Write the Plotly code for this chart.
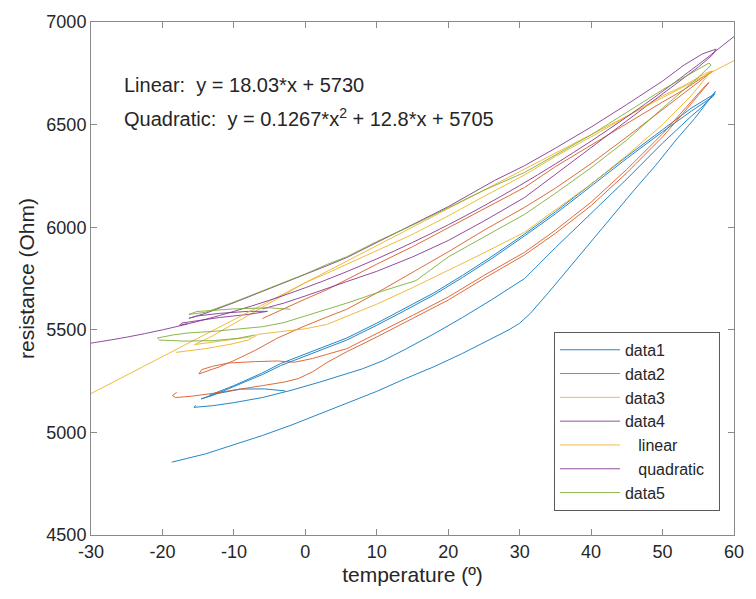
import plotly.graph_objects as go

# ---------------- data ----------------
# data1 (blue): heating branch, cooling branch, second cycle + hook
data1_temp = [-18.7, -17, -14, -10, -6, -2, 2, 6, 10, 14, 18, 22, 26, 28.5, 30, 31.5, 34, 37, 40, 43, 46, 49, 52, 54.5, 56, 57.4,
              57.0, 55.5, 54, 50, 45, 40, 35, 30.7, 26, 22, 18, 14, 10.9, 8, 5.8, 2, -2, -6, -10, -13, -15.6, -15.3,
              None,
              -13.5, -10, -6, -3.5, 0, 3, 5.8, 10, 14, 18, 22, 26, 30.7, 35, 40, 45, 50, 54, 57.3,
              57, 54, 50, 45, 40, 35, 30.7, 26, 22, 18, 14, 10, 5.8, 3, 0, -3.5, -6, -10, -13, -14.6,
              -12.6, -9.1, -5.7, -2.8]
data1_res = [4855, 4870, 4895, 4940, 4985, 5035, 5090, 5145, 5200, 5262, 5320, 5385, 5455, 5500, 5532, 5580, 5680, 5805, 5935, 6060, 6180, 6300, 6430, 6530, 6600, 6662,
             6640, 6585, 6540, 6410, 6235, 6070, 5900, 5750, 5645, 5560, 5480, 5405, 5350, 5310, 5285, 5245, 5205, 5170, 5145, 5130, 5122, 5132,
             None,
             5180, 5228, 5290, 5335, 5382, 5422, 5460, 5532, 5605, 5680, 5765, 5855, 5967, 6075, 6210, 6345, 6475, 6580, 6650,
             6635, 6565, 6465, 6335, 6200, 6065, 5958, 5845, 5755, 5670, 5595, 5522, 5450, 5412, 5372, 5325, 5282, 5222, 5180, 5163,
             5187, 5211, 5212, 5202]

# data2 (orange)
data2_temp = [-18.0, -18.6, -18.2, -16, -13, -10, -6, -3, -1, 1, 3, 5.8, 10, 15, 20, 25, 30.7, 35, 40, 45, 50, 53, 56.5,
              56, 53, 50, 45, 40, 35, 30.7, 25, 20, 15, 10, 5.8, 3, 1, -1.5, -3.9, -7, -10.8, -13, -14.5, -14.9,
              -14.5, -12, -10, -7, -4, 0, 3, 5.8, 10, 15, 20, 25, 30.7, 35, 40, 45, 50, 54, 57,
              56, 53, 50, 45, 40, 35, 30.7, 25, 20, 15, 10, 5.8, 3, 0, -3.5, -6]
data2_res = [5195, 5180, 5170, 5176, 5190, 5205, 5228, 5245, 5262, 5295, 5340, 5393, 5465, 5555, 5645, 5750, 5865, 5970, 6105, 6265, 6440, 6560, 6705,
             6690, 6575, 6455, 6282, 6122, 5985, 5878, 5765, 5660, 5570, 5480, 5408, 5380, 5360, 5342, 5348, 5345, 5338, 5322, 5306, 5285,
             5290, 5320, 5350, 5400, 5458, 5520, 5562, 5600, 5680, 5780, 5880, 5985, 6097, 6190, 6310, 6440, 6575, 6680, 6760,
             6740, 6670, 6610, 6505, 6400, 6295, 6194, 6090, 5995, 5905, 5820, 5745, 5695, 5650, 5595, 5555]

# data3 (yellow)
data3_temp = [-18.1, -14, -10.4, -8, -6.6, -3, 0, 3, 6, 10, 15, 20, 25, 30.7, 35, 40, 45, 50, 54, 56.8,
              56, 53, 50, 45, 40, 35, 30.7, 25, 20, 15, 10, 5.8, 3, 0, -2.1, -6, -10, -13, -15.5,
              -13, -10, -7.5]
data3_res = [5390, 5408, 5430, 5450, 5478, 5492, 5505, 5526, 5570, 5625, 5705, 5790, 5875, 5976, 6085, 6210, 6350, 6500, 6640, 6760,
             6750, 6690, 6640, 6540, 6440, 6345, 6255, 6150, 6055, 5965, 5885, 5820, 5775, 5730, 5688, 5610, 5530, 5470, 5428,
             5440, 5455, 5466]

# data4 (purple)
data4_temp = [-16.5, -17.6, -17.3, -15, -12, -8, -5.3, -8, -12, -15, -16.3,
              -14, -10, -5, 0, 3, 5.8, 10, 15, 20, 26.5, 30.7, 35, 40, 45, 50, 53, 55.6, 57.5,
              57, 55, 50, 45, 40, 35, 30.7, 25, 20, 15, 10, 5.8, 3, 0, -3, -6]
data4_res = [5530, 5522, 5533, 5545, 5560, 5575, 5590, 5590, 5580, 5568, 5556,
             5580, 5632, 5700, 5770, 5812, 5852, 5925, 6010, 6100, 6228, 6300, 6385, 6488, 6598, 6712, 6790, 6845, 6868,
             6840, 6780, 6650, 6520, 6390, 6260, 6145, 6030, 5935, 5855, 5785, 5735, 5700, 5665, 5630, 5602]

# data5 (green)
data5_temp = [-2.1, -5, -10, -13, -15.2, -16.3,
              -14, -10, -5, 0, 3, 5.8, 10, 15, 20, 25, 30.7, 35, 40, 45, 50, 54, 56.5,
              56.8, 55, 50, 45, 40, 35, 30.7, 25, 20, 15.5, 10, 5.8, 3, 0, -3, -6, -10, -13, -16.3,
              -18.5, -20.7, -20.4, -17, -13, -9.5, -7]
data5_res = [5600, 5607, 5602, 5595, 5589, 5575,
             5585, 5635, 5705, 5772, 5818, 5856, 5930, 6010, 6095, 6180, 6267, 6350, 6450, 6560, 6670, 6750, 6800,
             6790, 6730, 6580, 6425, 6290, 6165, 6063, 5950, 5855, 5740, 5680, 5630, 5600, 5565, 5535, 5515, 5500, 5492, 5485,
             5475, 5460, 5450, 5445, 5447, 5458, 5475]

# basic fits (values of the printed fit equations at the sampled temperatures)
linear_temp = [-30, 60]
linear_res = [5189.1, 6811.8]
quad_temp = [-30, -25, -20, -15, -10, -5, 0, 5, 10, 15, 20, 25, 30, 35, 40, 45, 50, 55, 60]
quad_res = [5435.0, 5464.2, 5499.7, 5541.5, 5589.7, 5644.2, 5705.0, 5772.2, 5845.7, 5925.5,
            6011.7, 6104.2, 6203.0, 6308.2, 6419.7, 6537.6, 6661.8, 6792.3, 6929.1]

x_ticks = [-30, -20, -10, 0, 10, 20, 30, 40, 50, 60]
y_ticks = [4500, 5000, 5500, 6000, 6500, 7000]

# ---------------- figure ----------------
BLUE, ORANGE, YELLOW, PURPLE, GREEN = "#0072BD", "#D95319", "#EDB120", "#7E2F8E", "#77AC30"
LW = 1.0
FONT = "Liberation Sans, Arial, sans-serif"
TXT = "#262626"

fig = go.Figure()
series = [
    ("data1", data1_temp, data1_res, BLUE, "linear"),
    ("data2", data2_temp, data2_res, ORANGE, "linear"),
    ("data3", data3_temp, data3_res, YELLOW, "linear"),
    ("data4", data4_temp, data4_res, PURPLE, "linear"),
    ("\u00a0\u00a0\u00a0linear", linear_temp, linear_res, YELLOW, "linear"),
    ("\u00a0\u00a0\u00a0quadratic\u00a0\u00a0", quad_temp, quad_res, PURPLE, "spline"),
    ("data5", data5_temp, data5_res, GREEN, "linear"),
]
for name, xs, ys, col, shape in series:
    fig.add_trace(go.Scatter(x=xs, y=ys, mode="lines", name=name, connectgaps=False, opacity=0.85,
                             line=dict(color=col, width=LW, shape=shape)))

fig.add_annotation(x=-25.7, y=6693, xref="x", yref="y", text="Linear:  y = 18.03*x + 5730",
                   showarrow=False, xanchor="left", yanchor="middle",
                   font=dict(family=FONT, size=20, color=TXT))
fig.add_annotation(x=-25.7, y=6533, xref="x", yref="y",
                   text="Quadratic:  y = 0.1267*x<sup>2</sup> + 12.8*x + 5705",
                   showarrow=False, xanchor="left", yanchor="middle",
                   font=dict(family=FONT, size=20, color=TXT))

axis_common = dict(showline=True, linecolor="#8a8a8a", linewidth=1, mirror="ticks",
                   ticks="inside", ticklen=6, tickcolor="#8a8a8a", showgrid=False, zeroline=False,
                   tickfont=dict(family=FONT, size=18, color=TXT))
fig.update_xaxes(range=[-30, 60], tickvals=x_ticks, ticktext=[str(v) for v in x_ticks],
                 title=dict(text="temperature (º)", font=dict(family=FONT, size=21, color=TXT), standoff=6),
                 **axis_common)
fig.update_yaxes(range=[4500, 7000], tickvals=y_ticks, ticktext=[str(v) for v in y_ticks],
                 title=dict(text="resistance (Ohm)", font=dict(family=FONT, size=21, color=TXT), standoff=6),
                 **axis_common)

fig.update_layout(
    width=756, height=599,
    margin=dict(l=91, r=14, t=20, b=64),
    paper_bgcolor="white", plot_bgcolor="white",
    showlegend=True,
    legend=dict(x=0.72, y=0.396, xanchor="left", yanchor="top", itemwidth=60,
                bgcolor="white", bordercolor="#5a5a5a", borderwidth=1,
                font=dict(family=FONT, size=16, color=TXT), tracegroupgap=0),
)

fig.write_html("out.html")
